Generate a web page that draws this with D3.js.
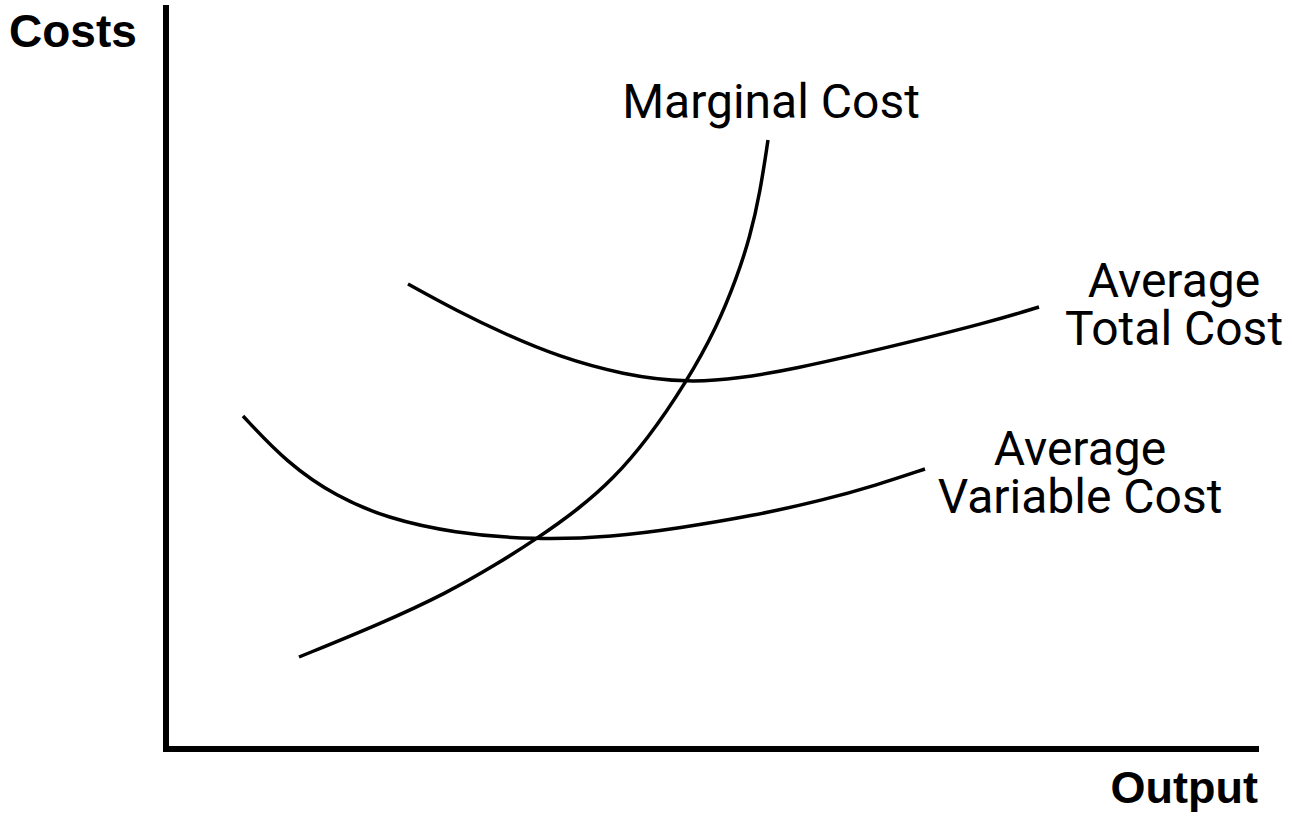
<!DOCTYPE html>
<html>
<head>
<meta charset="utf-8">
<script src="https://cdn.jsdelivr.net/npm/d3@7"></script>
<style>
  body { margin: 0; background: #fff; }
  svg { display: block; }
</style>
</head>
<body>
<div id="chart-container"></div>
<script>
// output / cost units (1 unit = 10px at this size)
const mcOutput = [13.3, 21.4, 28.1, 33.1, 36.9, 41.4, 44.7, 48.1, 52.0, 55.1, 57.1, 58.4, 59.4, 60.2];
const mcCost   = [9.2, 12.5, 15.6, 18.5, 20.9, 24.1, 27.0, 30.9, 36.6, 42.2, 47.2, 51.2, 55.6, 60.9];

const avcOutput = [7.7, 12.1, 17.1, 22.1, 28.7, 36.9, 44.7, 51.4, 58.6, 65.8, 71.1, 75.9];
const avcCost   = [33.3, 28.6, 25.2, 23.1, 21.6, 20.9, 21.2, 22.1, 23.3, 24.9, 26.4, 28.0];

const atcOutput = [24.2, 29.1, 34.1, 39.1, 45.7, 52.4, 57.4, 62.4, 72.4, 82.4, 87.3];
const atcCost   = [46.5, 43.8, 41.4, 39.3, 37.4, 36.6, 37.1, 37.9, 40.2, 42.7, 44.2];

const W = 1292, H = 818;
const origin = { x: 166, y: 749 };
const xMax = 109.2, yMax = 74.4;

const x = d3.scaleLinear().domain([0, xMax]).range([origin.x, origin.x + xMax * 10]);
const y = d3.scaleLinear().domain([0, yMax]).range([origin.y, origin.y - yMax * 10]);

const svg = d3.select("#chart-container")
    .append("svg")
    .attr("width", W)
    .attr("height", H);

// axes: plain thick lines, no ticks
svg.append("line")
    .attr("x1", x(0)).attr("x2", x(0))
    .attr("y1", y(yMax)).attr("y2", y(0) + 3)
    .attr("stroke", "#000").attr("stroke-width", 6);

svg.append("line")
    .attr("x1", x(0) - 3).attr("x2", x(xMax) + 1)
    .attr("y1", y(0)).attr("y2", y(0))
    .attr("stroke", "#000").attr("stroke-width", 6);

const line = d3.line()
    .x(d => x(d[0]))
    .y(d => y(d[1]))
    .curve(d3.curveBasis);

const series = [
    mcOutput.map((v, i) => [v, mcCost[i]]),
    atcOutput.map((v, i) => [v, atcCost[i]]),
    avcOutput.map((v, i) => [v, avcCost[i]])
];

svg.selectAll(".curve")
    .data(series)
    .join("path")
    .attr("class", "curve")
    .attr("fill", "none")
    .attr("stroke", "#000")
    .attr("stroke-width", 3.5)
    .attr("d", line);

// curve labels, one text per line
const labelFont = "Roboto, 'Liberation Sans', sans-serif";
const labels = [
    { lines: ["Marginal Cost"], at: [60.5, 63.1] },
    { lines: ["Average", "Total Cost"], at: [100.8, 45.2] },
    { lines: ["Average", "Variable Cost"], at: [91.4, 28.4] }
];

labels.forEach(l => {
    l.lines.forEach((s, i) => {
        svg.append("text")
            .attr("x", x(l.at[0]))
            .attr("y", y(l.at[1]) + i * 48)
            .attr("text-anchor", "middle")
            .attr("font-family", labelFont)
            .attr("font-size", 48)
            .attr("fill", "#000")
            .text(s);
    });
});

// axis titles
svg.append("text")
    .attr("x", 9)
    .attr("y", 47)
    .attr("font-family", "'Liberation Sans', Arial, sans-serif")
    .attr("font-weight", "bold")
    .attr("font-size", 46)
    .text("Costs");

svg.append("text")
    .attr("x", x(xMax))
    .attr("y", 803)
    .attr("text-anchor", "end")
    .attr("font-family", "'Liberation Sans', Arial, sans-serif")
    .attr("font-weight", "bold")
    .attr("font-size", 45)
    .text("Output");
</script>
</body>
</html>
